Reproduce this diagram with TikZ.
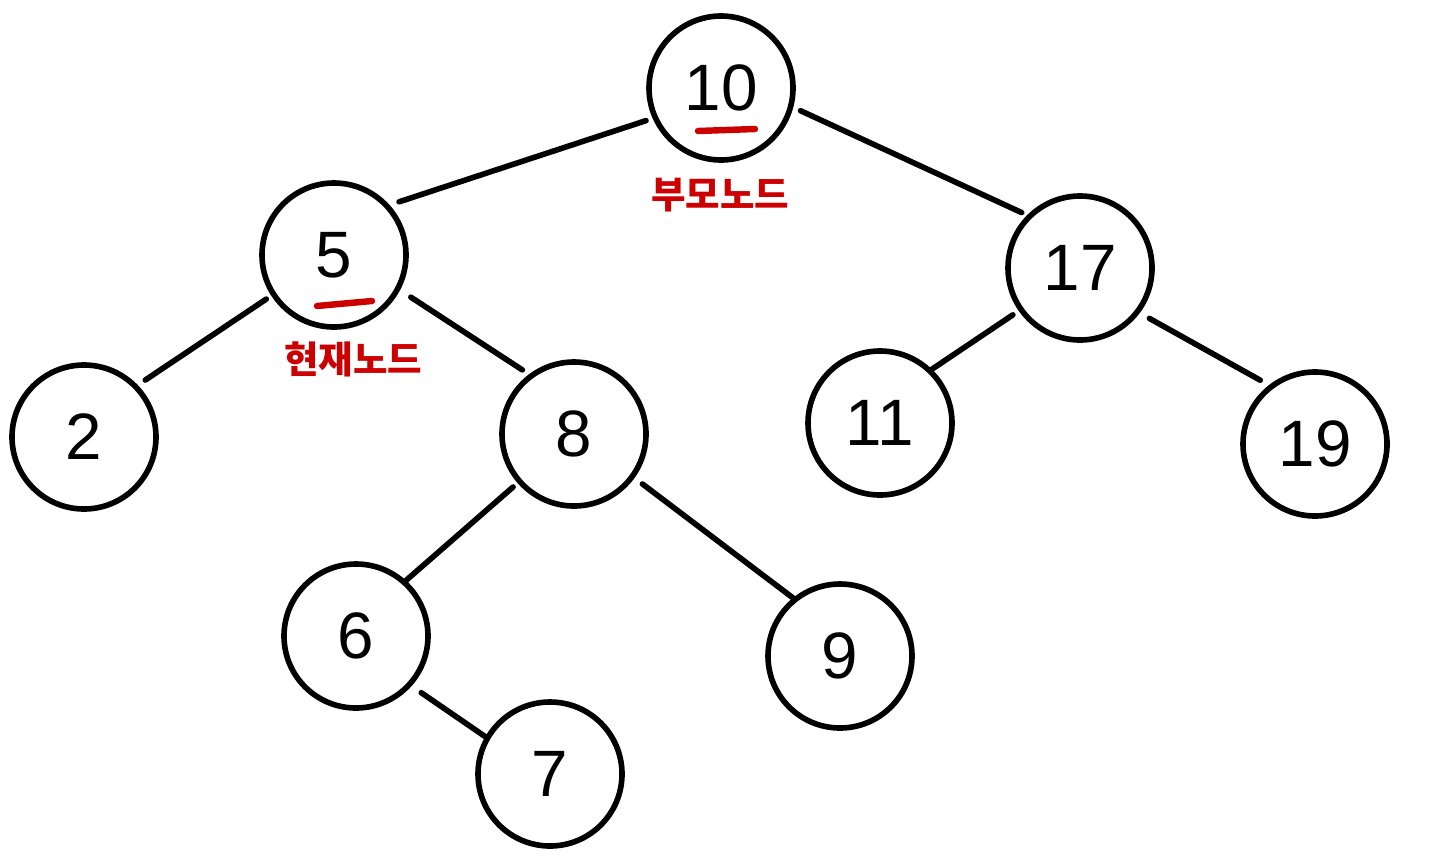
\documentclass[tikz,border=0pt]{standalone}
\usepackage{fontspec}
\setmainfont{Liberation Sans}
\newfontfamily\korfont{Noto Sans CJK KR}
\usepackage{tikz}
\usetikzlibrary{positioning}
\definecolor{penred}{RGB}{204,0,0}

\begin{document}
\begin{tikzpicture}[x=0.03cm,y=-0.03cm,
 vertex/.style={circle,draw=black,line width=4.8pt,minimum size=4.32cm,
   inner sep=0pt,font=\fontsize{56}{56}\selectfont},
 edge/.style={line width=4.8pt,line cap=round},
 redline/.style={draw=penred,line width=5.5pt,line cap=round},
 tag/.style={text=penred,inner sep=0pt,
   font=\korfont\bfseries\fontsize{32}{32}\selectfont}]
 \useasboundingbox (0,0) rectangle (1440,865);
 \node[vertex] (n10) at (721,88) {10};
 \node[vertex] (n5) at (334,255) {5};
 \node[vertex] (n17) at (1080,268) {17};
 \node[vertex] (n2) at (84,437) {2};
 \node[vertex] (n8) at (574,434) {8};
 \node[vertex] (n11) at (880,423) {11};
 \node[vertex] (n19) at (1315,444) {19};
 \node[vertex] (n6) at (356,636) {6};
 \node[vertex] (n9) at (840,656) {9};
 \node[vertex] (n7) at (550,774) {7};
 \node[tag] (parent) at (720,195) {부모노드};
 \node[tag] (current) at (353,359) {현재노드};
 % red underlines
 \draw[redline] ([shift={(-23,43)}]n10.center) -- ([shift={(34,41)}]n10.center);
 \draw[redline] ([shift={(-17,51)}]n5.center) -- ([shift={(38,46)}]n5.center);
 % tree edges
 \foreach \a/\p/\b/\q/\s/\t in {n10/204/n5/42/6/8.5, n10/345/n17/135/6.8/5.1,
   n5/213/n2/44/5.1/7.7, n5/332/n8/127/11/6.8, n8/221/n6/48/5.1/0,
   n8/324/n9/129/8.5/0, n6/318/n7/150/10/0, n17/215/n11/46/6/0,
   n17/323/n19/128/9.4/8.5}
   \draw[edge,shorten <=\s pt,shorten >=\t pt] (\a.\p) -- (\b.\q);
\end{tikzpicture}
\end{document}
